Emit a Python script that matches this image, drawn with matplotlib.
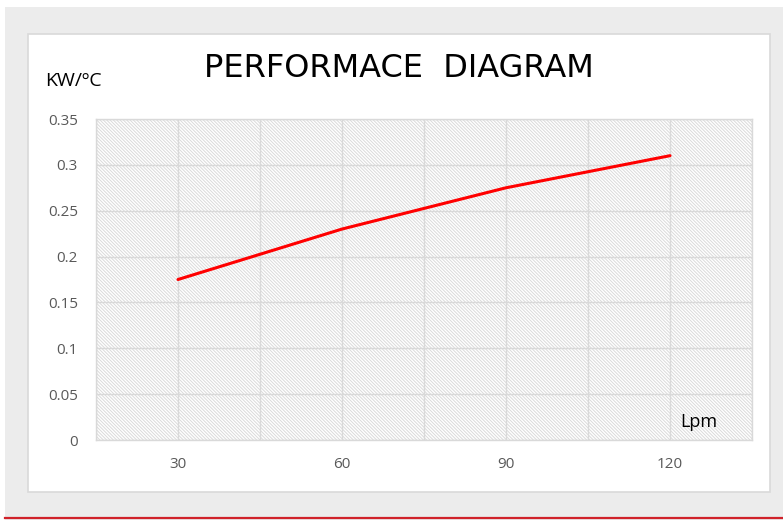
import matplotlib.pyplot as plt
from matplotlib.patches import Rectangle
from matplotlib.lines import Line2D

# data
flow = [30, 60, 90, 120]
power = [0.175, 0.23, 0.275, 0.31]
y_ticks = [0, 0.05, 0.1, 0.15, 0.2, 0.25, 0.3, 0.35]
y_labels = ["0", "0.05", "0.1", "0.15", "0.2", "0.25", "0.3", "0.35"]

grid_col = "#d9d9d9"
tick_col = "#595959"
font = ["Open Sans", "DejaVu Sans"]

plt.rcParams["hatch.linewidth"] = 0.7

fig = plt.figure(figsize=(7.83, 5.20), dpi=100)
fig.patch.set_facecolor("white")

# grey backdrop, white card, red rule at the bottom
fig.add_artist(Rectangle((5 / 783, 0), 1, 1 - 7 / 520, transform=fig.transFigure,
                         facecolor="#ececec", edgecolor="none", zorder=-3))
fig.add_artist(Rectangle((28 / 783, 28 / 520), 742 / 783, 458 / 520, transform=fig.transFigure,
                         facecolor="white", edgecolor=grid_col, linewidth=1.2, zorder=-2))
fig.add_artist(Line2D([5 / 783, 1], [2 / 520, 2 / 520], transform=fig.transFigure,
                      color="#d0222a", linewidth=1.6))

ax = fig.add_axes([96 / 783, 80 / 520, 656 / 783, 321 / 520])
ax.set_facecolor("white")
ax.add_patch(Rectangle((0, 0), 1, 1, transform=ax.transAxes, facecolor="white",
                       edgecolor="#dadada", linewidth=0, hatch="\\" * 10, zorder=0.1))

ax.plot(flow, power, color="#ff0000", linewidth=2.2, zorder=3, solid_capstyle="round")

ax.set_xlim(15, 135)
ax.set_ylim(0, 0.35)
ax.set_xticks(flow)
ax.set_xticks([15, 45, 75, 105, 135], minor=True)
ax.set_yticks(y_ticks)
ax.set_yticklabels(y_labels)
ax.grid(True, which="both", color=grid_col, linewidth=1)
ax.set_axisbelow(True)
ax.tick_params(which="both", length=0)
ax.tick_params(axis="y", pad=13, labelsize=11, labelcolor=tick_col)
ax.tick_params(axis="x", pad=12, labelsize=11, labelcolor=tick_col)
for lab in ax.get_xticklabels() + ax.get_yticklabels():
    lab.set_family(font)
for s in ax.spines.values():
    s.set_color(grid_col)
    s.set_linewidth(1)

fig.text(0.5096, 0.868, "PERFORMACE  DIAGRAM", ha="center", va="center",
         fontsize=23, family=["DejaVu Sans"], color="black")
fig.text(45 / 783, 1 - 81 / 520, "KW/ºC", ha="left", va="center",
         fontsize=14, family=font, color="black")
ax.text(0.919, 0.056, "Lpm", transform=ax.transAxes, ha="center", va="center",
        fontsize=13, family=font, color="black")

fig.savefig("out.png", dpi=100, facecolor=fig.get_facecolor())
